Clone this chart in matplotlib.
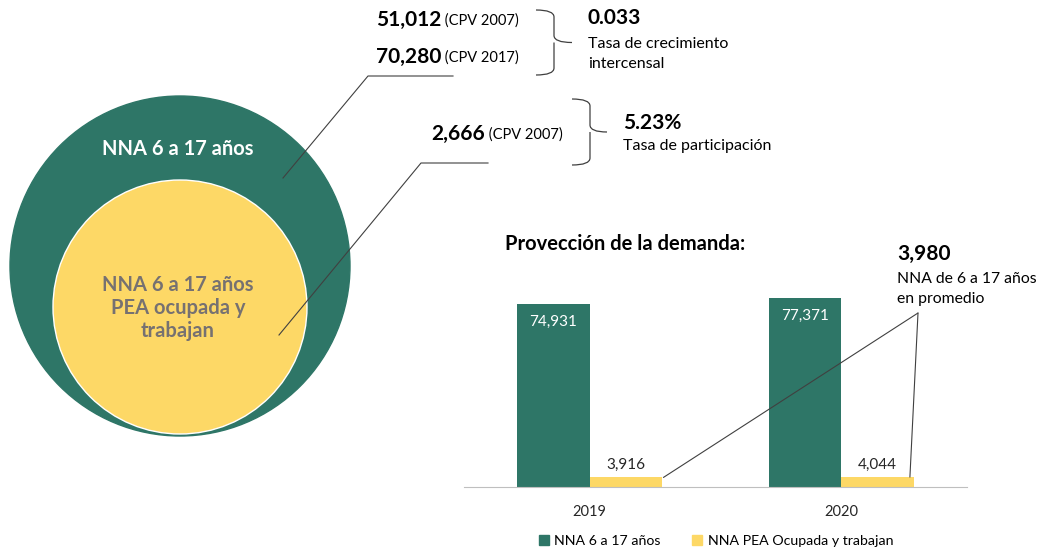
import matplotlib
matplotlib.use('Agg')
import matplotlib.pyplot as plt
from matplotlib.patches import Circle, Patch, PathPatch
from matplotlib.path import Path

plt.rcParams['font.family'] = ['Lato', 'DejaVu Sans']

GREEN = '#2e7667'
YELLOW = '#fdd866'
GRAY_TXT = '#767171'

# bar chart data
years = ['2019', '2020']
nna_total = [74931, 77371]
nna_pea = [3916, 4044]
series_names = ['NNA 6 a 17 años', 'NNA PEA Ocupada y trabajan']

# census figures
census_total = ['51,012', '70,280']
census_total_src = ['(CPV 2007)', '(CPV 2017)']
census_pea = '2,666'
census_pea_src = '(CPV 2007)'
growth_rate = '0.033'
participation = '5.23%'
avg_demand = '3,980'

W, H = 1041, 556
fig = plt.figure(figsize=(W / 100, H / 100), dpi=100)

# overlay in pixel coordinates
ov = fig.add_axes([0, 0, 1, 1])
ov.set_xlim(0, W)
ov.set_ylim(H, 0)
ov.axis('off')

ov.add_patch(Circle((180, 266), 170, color=GREEN, zorder=1))
ov.add_patch(Circle((180, 307), 127, facecolor=YELLOW, edgecolor='white', lw=1, zorder=2))
ov.text(178, 149, 'NNA 6 a 17 años', color='white', fontsize=14.5, fontweight='bold',
        ha='center', va='center', zorder=3)
ov.text(178, 308, 'NNA 6 a 17 años\nPEA ocupada y\ntrabajan', color=GRAY_TXT, fontsize=14.5,
        fontweight='bold', ha='center', va='center', linespacing=1.2, zorder=3)

# leader lines
ov.plot([283, 368, 453], [178, 76, 76], color='#404040', lw=0.8, zorder=4)
ov.plot([279, 421, 488], [335, 163, 163], color='#404040', lw=0.8, zorder=4)


def brace(x0, xv, xt, ytop, ybot, r=7):
    ym = (ytop + ybot) / 2
    verts = [(x0, ytop), (xv, ytop), (xv, ytop + r),
             (xv, ym - r), (xv, ym), (xt, ym),
             (xv, ym), (xv, ym + r),
             (xv, ybot - r), (xv, ybot), (x0, ybot)]
    codes = [Path.MOVETO, Path.CURVE3, Path.CURVE3,
             Path.LINETO, Path.CURVE3, Path.CURVE3,
             Path.MOVETO, Path.CURVE3,
             Path.LINETO, Path.CURVE3, Path.CURVE3]
    ov.add_patch(PathPatch(Path(verts, codes), fill=False, ec='#404040', lw=0.9))


brace(536, 554, 572, 10, 75)
brace(572, 590, 607, 99, 165)

for i, (val, src) in enumerate(zip(census_total, census_total_src)):
    y = 20 + i * 37
    t = ov.text(376, y, val, fontsize=15, fontweight='bold', va='center', color='black')
    ov.annotate(' ' + src, xycoords=t, xy=(1, 0.45), va='center', fontsize=10.5)
t = ov.text(431, 134, census_pea, fontsize=15, fontweight='bold', va='center')
ov.annotate(' ' + census_pea_src, xycoords=t, xy=(1, 0.45), va='center', fontsize=10.5)

ov.text(588, 18, growth_rate, fontsize=15, fontweight='bold', va='center')
ov.text(588, 44, 'Tasa de crecimiento', fontsize=11.5, va='center')
ov.text(588, 64, 'intercensal', fontsize=11.5, va='center')
ov.text(623, 123, participation, fontsize=15, fontweight='bold', va='center')
ov.text(623, 146, 'Tasa de participación', fontsize=11.5, va='center')

ov.text(505, 244, 'Provección de la demanda:', fontsize=14.5, fontweight='bold', va='center')
ov.text(897, 254, avg_demand, fontsize=15, fontweight='bold', va='center')
ov.text(897, 279, 'NNA de 6 a 17 años', fontsize=11.3, va='center')
ov.text(897, 299, 'en promedio', fontsize=11.3, va='center')

# bar chart
left, right, bottom, top = 464, 967, 487, 250
ax = fig.add_axes([left / W, 1 - bottom / H, (right - left) / W, (bottom - top) / H])
ax.patch.set_alpha(0)
px_per_unit = 183 / 74931
ax.set_ylim(0, (bottom - top) / px_per_unit)
ax.set_xlim(-0.5, 1.5)
bw = 0.288
xs = range(len(years))
ax.bar([x - bw / 2 for x in xs], nna_total, bw, color=GREEN, zorder=2)
ax.bar([x + bw / 2 for x in xs], nna_pea, bw, color=YELLOW, zorder=2)
for x, v in zip(xs, nna_total):
    ax.annotate(f'{v:,}', (x - bw / 2, v), xytext=(0, -8), textcoords='offset points',
                ha='center', va='top', color='white', fontsize=11)
for x, v in zip(xs, nna_pea):
    ax.annotate(f'{v:,}', (x + bw / 2, v), xytext=(0, 4), textcoords='offset points',
                ha='center', va='bottom', color='#262626', fontsize=11)

# lines from the average label to the small bars
apex = (918, H - 313)
for x, v, dx in zip(xs, nna_pea, [0.005, -0.015]):
    ax.annotate('', xy=(x + bw + dx, v), xytext=apex, textcoords='figure pixels',
                arrowprops=dict(arrowstyle='-', color='#404040', lw=0.8,
                                shrinkA=0, shrinkB=0))

ax.set_xticks(list(xs))
ax.set_xticklabels(years, fontsize=10.5, color='#262626')
ax.tick_params(axis='x', length=0, pad=13)
ax.set_yticks([])
for s in ['top', 'left', 'right']:
    ax.spines[s].set_visible(False)
ax.spines['bottom'].set_color('#bfbfbf')

handles = [Patch(color=GREEN), Patch(color=YELLOW)]
fig.legend(handles, series_names, loc='center', bbox_to_anchor=(716 / W, 1 - 541 / H),
           ncol=2, frameon=False, fontsize=10.2, handlelength=0.7, handleheight=0.7,
           handletextpad=0.4, columnspacing=2.2)

fig.savefig('out.png', dpi=100)
